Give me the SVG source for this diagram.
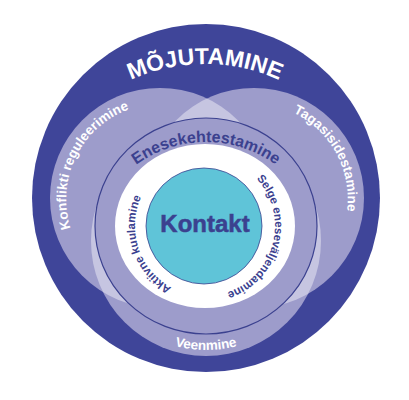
<svg xmlns="http://www.w3.org/2000/svg" xmlns:xlink="http://www.w3.org/1999/xlink" width="409" height="400" viewBox="0 0 409 400">
<style>
.t{font-family:"Liberation Sans",Arial,sans-serif;font-weight:bold}
.w{fill:#ffffff}
.n{fill:#3b418f}
.mid{fill:#9d9ccb}
.lens{fill:#c6c5e1}
</style>
<defs>
<clipPath id="cL"><circle cx="160" cy="198" r="110"/></clipPath>
<clipPath id="cR"><circle cx="254" cy="198" r="110"/></clipPath>
<path id="pMoj" d="M25,244 A180,180 0 0 1 385,244"/>
<path id="pKon" d="M112,281.1 A96,96 0 0 1 208,114.9"/>
<path id="pTag" d="M206,114.9 A96,96 0 0 1 302,281.1"/>
<path id="pVee" d="M82,226 A124,124 0 0 0 330,226"/>
<path id="pEne" d="M88,260 A118,118 0 0 1 324,260"/>
<path id="pAkt" d="M227.2,292.4 A70,70 0 0 1 182.8,159.6"/>
<path id="pSel" d="M222.5,158.2 A70,70 0 0 1 187.5,293.8"/>
</defs>
<g id="outer">
<circle cx="206" cy="198" r="174" fill="#3f4599"/>
<text class="t w" font-size="23"><textPath xlink:href="#pMoj" startOffset="50%" text-anchor="middle">MÕJUTAMINE</textPath></text>
</g>
<g id="circles">
<circle class="mid" cx="160" cy="198" r="110"/>
<circle class="mid" cx="254" cy="198" r="110"/>
<circle class="mid" cx="206" cy="241" r="115"/>
<circle class="lens" cx="254" cy="198" r="110" clip-path="url(#cL)"/>
<circle class="lens" cx="206" cy="241" r="115" clip-path="url(#cL)"/>
<circle class="lens" cx="206" cy="241" r="115" clip-path="url(#cR)"/>
</g>
<g id="konflikti"><text class="t w" font-size="13.5"><textPath xlink:href="#pKon" startOffset="47.8%" text-anchor="middle">Konflikti reguleerimine</textPath></text></g>
<g id="tagasiside"><text class="t w" font-size="13.5"><textPath xlink:href="#pTag" startOffset="50.8%" text-anchor="middle">Tagasisidestamine</textPath></text></g>
<g id="veenmine"><text class="t w" font-size="13.5"><textPath xlink:href="#pVee" startOffset="50%" text-anchor="middle">Veenmine</textPath></text></g>
<g id="enesekehtestamine">
<ellipse cx="206" cy="226" rx="111" ry="108" fill="#9d9ccb" stroke="#3b418f" stroke-width="1.2"/>
<text class="t n" font-size="16"><textPath xlink:href="#pEne" startOffset="50%" text-anchor="middle">Enesekehtestamine</textPath></text>
</g>
<g id="whitering">
<ellipse cx="205" cy="226" rx="90" ry="82" fill="#ffffff"/>
<text class="t n" font-size="11.5"><textPath xlink:href="#pAkt" startOffset="50%" text-anchor="middle">Aktiivne kuulamine</textPath></text>
<text class="t n" font-size="11.5"><textPath xlink:href="#pSel" startOffset="50%" text-anchor="middle">Selge eneseväljendamine</textPath></text>
</g>
<g id="kontakt">
<circle cx="204" cy="226" r="58" fill="#5fc4d8" stroke="#3b418f" stroke-width="0.8"/>
<text class="t n" x="205" y="232" font-size="24" text-anchor="middle" stroke="#3b418f" stroke-width="0.5">Kontakt</text>
</g>
</svg>
